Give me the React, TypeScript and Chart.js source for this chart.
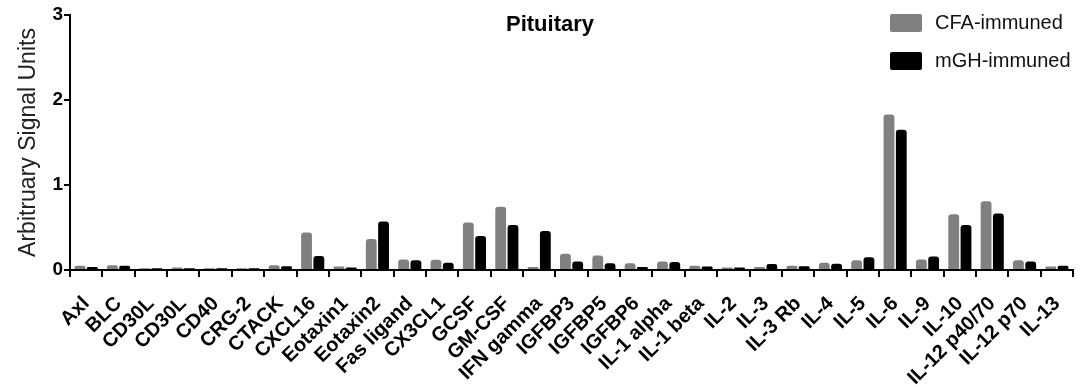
import React, { useEffect, useRef } from "react";
import { Chart, registerables } from "chart.js";

Chart.register(...registerables);

const categories = [
  "Axl", "BLC", "CD30L", "CD30L", "CD40", "CRG-2", "CTACK", "CXCL16", "Eotaxin1", "Eotaxin2",
  "Fas ligand", "CX3CL1", "GCSF", "GM-CSF", "IFN gamma", "IGFBP3", "IGFBP5", "IGFBP6",
  "IL-1 alpha", "IL-1 beta", "IL-2", "IL-3", "IL-3 Rb", "IL-4", "IL-5", "IL-6", "IL-9",
  "IL-10", "IL-12 p40/70", "IL-12 p70", "IL-13",
];

const cfaImmuned = [
  0.05, 0.055, 0.02, 0.03, 0.02, 0.02, 0.055, 0.44, 0.04, 0.365,
  0.125, 0.12, 0.56, 0.745, 0.035, 0.19, 0.17, 0.08,
  0.1, 0.05, 0.03, 0.035, 0.05, 0.085, 0.115, 1.83, 0.125,
  0.655, 0.81, 0.115, 0.04,
];

const mghImmuned = [
  0.035, 0.05, 0.02, 0.02, 0.02, 0.02, 0.045, 0.165, 0.03, 0.57,
  0.115, 0.085, 0.4, 0.53, 0.46, 0.1, 0.08, 0.035,
  0.095, 0.04, 0.028, 0.07, 0.045, 0.075, 0.15, 1.65, 0.16,
  0.53, 0.665, 0.1, 0.05,
];

const seriesNames = ["CFA-immuned", "mGH-immuned"];
const seriesColors = ["#808080", "#000000"];
const yTicks = [0, 1, 2, 3];
const chartTitle = "Pituitary";
const yAxisTitle = "Arbitruary Signal Units";

const FONT = "'Liberation Sans', Arial, Helvetica, sans-serif";

const overlayPlugin = {
  id: "overlay",
  afterDraw(chart: any) {
    const ctx = chart.ctx;
    ctx.save();
    // title
    ctx.fillStyle = "#000";
    ctx.font = `bold 22px ${FONT}`;
    ctx.textAlign = "center";
    ctx.textBaseline = "middle";
    ctx.fillText(chartTitle, 550, 25);
    // legend
    ctx.font = `20px ${FONT}`;
    ctx.textAlign = "left";
    chart.data.datasets.forEach((ds: any, i: number) => {
      const y = 14 + i * 38;
      ctx.fillStyle = ds.backgroundColor;
      ctx.beginPath();
      (ctx as any).roundRect(890, y, 32, 18, 2);
      ctx.fill();
      ctx.fillStyle = "#111";
      ctx.fillText(ds.label, 935, y + 9);
    });
    ctx.restore();
  },
};

export default function App() {
  const ref = useRef<HTMLCanvasElement | null>(null);

  useEffect(() => {
    if (!ref.current) return;
    const chart = new Chart(ref.current, {
      type: "bar",
      data: {
        labels: categories,
        datasets: [cfaImmuned, mghImmuned].map((d, i) => ({
          label: seriesNames[i],
          data: d,
          backgroundColor: seriesColors[i],
          borderWidth: 0,
          borderRadius: { topLeft: 3, topRight: 3, bottomLeft: 0, bottomRight: 0 },
          borderSkipped: "start",
          categoryPercentage: 0.76,
          barPercentage: 0.88,
        })),
      },
      options: {
        responsive: false,
        animation: false,
        layout: { padding: { top: 15, right: 6, left: 15, bottom: 0 } },
        plugins: {
          legend: { display: false },
          title: { display: false },
          tooltip: { enabled: false },
        },
        scales: {
          x: {
            grid: {
              drawOnChartArea: false,
              drawTicks: true,
              tickLength: 7,
              tickWidth: 2,
              tickColor: "#000",
              color: "#000",
              lineWidth: 2,
            },
            border: { color: "#000", width: 2 },
            ticks: {
              autoSkip: false,
              maxRotation: 45,
              minRotation: 45,
              color: "#000",
              font: { family: FONT, size: 20, weight: "bold" },
              padding: 15,
            },
            afterFit(scale: any) {
              scale.height = 117;
            },
          },
          y: {
            min: 0,
            max: 3,
            afterBuildTicks(scale: any) {
              scale.ticks = yTicks.map((v) => ({ value: v }));
            },
            grid: {
              drawOnChartArea: false,
              drawTicks: true,
              tickLength: 6,
              tickWidth: 2,
              tickColor: "#000",
              color: "#000",
              lineWidth: 2,
            },
            border: { color: "#000", width: 2 },
            ticks: {
              color: "#000",
              font: { family: FONT, size: 19, weight: "bold" },
              padding: 1,
            },
            title: {
              display: true,
              text: yAxisTitle,
              color: "#222",
              font: { family: FONT, size: 23, weight: "normal" },
              padding: { top: 0, bottom: 0 },
            },
            afterFit(scale: any) {
              scale.width = 55;
            },
          },
        },
      },
      plugins: [overlayPlugin],
    });
    return () => chart.destroy();
  }, []);

  return (
    <div style={{ position: "fixed", left: 0, top: 0, width: 1089, height: 387, background: "#fff" }}>
      <canvas ref={ref} width={1089} height={387} style={{ width: 1089, height: 387 }} />
    </div>
  );
}
